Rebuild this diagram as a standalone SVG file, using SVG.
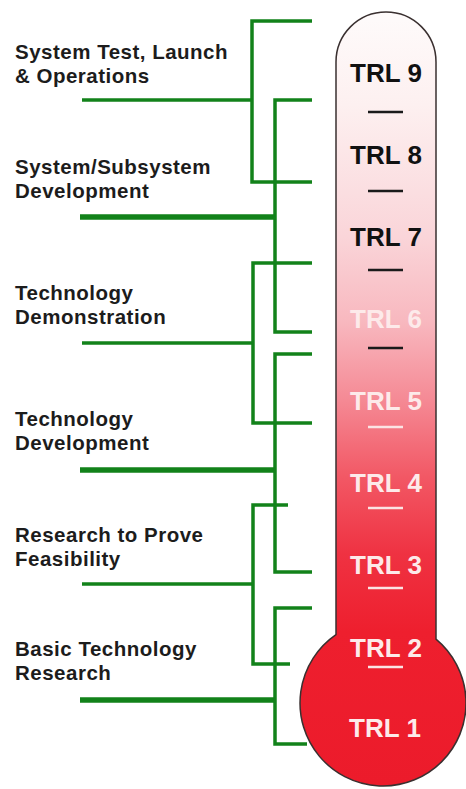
<svg xmlns="http://www.w3.org/2000/svg" width="466" height="789" viewBox="0 0 466 789">
<style>
.lbl{font-family:"Liberation Sans",Arial,sans-serif;font-weight:bold;font-size:20.5px;letter-spacing:0.5px;fill:#1c1c1c}
.trl{font-family:"Liberation Sans",Arial,sans-serif;font-weight:bold;font-size:26px;text-anchor:middle}
.dk{fill:#111}
.wt{fill:#fdeaea}
.ln{fill:none;stroke:#12821a;stroke-width:3.5;stroke-linecap:butt;stroke-linejoin:miter}
.thick{stroke-width:5.5}
.dd{stroke:#1a1a1a;stroke-width:2.5}
.dw{stroke:#fbe4e4;stroke-width:2.5}
</style>
<defs>
<linearGradient id="tube" gradientUnits="userSpaceOnUse" x1="0" y1="12" x2="0" y2="786">
<stop offset="0" stop-color="#fefbfb"/>
<stop offset="0.12" stop-color="#fdf0f0"/>
<stop offset="0.29" stop-color="#fad5d9"/>
<stop offset="0.4" stop-color="#f8b8bf"/>
<stop offset="0.5" stop-color="#f58a95"/>
<stop offset="0.6" stop-color="#f25865"/>
<stop offset="0.7" stop-color="#ef3242"/>
<stop offset="0.8" stop-color="#ee1f2e"/>
<stop offset="1" stop-color="#ec1b2b"/>
</linearGradient>
</defs>
<rect width="466" height="789" fill="#ffffff"/>
<g id="connectors">
<path class="ln" d="M312,21 H252 V182 H312"/>
<path class="ln" d="M82,100 H252"/>
<path class="ln" d="M312,100 H275 V332 H312"/>
<path class="ln thick" d="M80,217 H275"/>
<path class="ln" d="M312,263 H253 V423 H312"/>
<path class="ln" d="M82,343 H253"/>
<path class="ln" d="M312,354 H275 V572 H312"/>
<path class="ln thick" d="M80,470 H275"/>
<path class="ln" d="M288,505 H253 V664 H290"/>
<path class="ln" d="M82,584 H253"/>
<path class="ln" d="M312,608 H275 V744 H307"/>
<path class="ln thick" d="M80,700 H275"/>
</g>
<g id="thermometer">
<path d="M336,62 A50,50 0 0 1 436,62 L436,639.1 A83,83 0 1 1 336,634.6 Z" fill="url(#tube)" stroke="#3a3030" stroke-width="1.5"/>
<g id="trl9"><text class="trl dk" x="386" y="81.5">TRL 9</text></g>
<line class="dd" x1="368" y1="112" x2="403" y2="112"/>
<g id="trl8"><text class="trl dk" x="386" y="164">TRL 8</text></g>
<line class="dd" x1="368" y1="191" x2="403" y2="191"/>
<g id="trl7"><text class="trl dk" x="386" y="246">TRL 7</text></g>
<line class="dd" x1="368" y1="270" x2="403" y2="270"/>
<g id="trl6"><text class="trl wt" x="386" y="328">TRL 6</text></g>
<line class="dd" x1="368" y1="348" x2="403" y2="348"/>
<g id="trl5"><text class="trl wt" x="386" y="410">TRL 5</text></g>
<line class="dw" x1="368" y1="427" x2="403" y2="427"/>
<g id="trl4"><text class="trl wt" x="386" y="492">TRL 4</text></g>
<line class="dw" x1="368" y1="508" x2="403" y2="508"/>
<g id="trl3"><text class="trl wt" x="386" y="574">TRL 3</text></g>
<line class="dw" x1="368" y1="588" x2="403" y2="588"/>
<g id="trl2"><text class="trl wt" x="386" y="657">TRL 2</text></g>
<line class="dw" x1="368" y1="667" x2="403" y2="667"/>
<g id="trl1"><text class="trl wt" x="385" y="737">TRL 1</text></g>
</g>
<g id="system-test"><text class="lbl" x="15" y="58.5">System Test, Launch</text><text class="lbl" x="15" y="82.5">&amp; Operations</text></g>
<g id="system-dev"><text class="lbl" x="15" y="174">System/Subsystem</text><text class="lbl" x="15" y="198">Development</text></g>
<g id="tech-demo"><text class="lbl" x="15" y="299.5">Technology</text><text class="lbl" x="15" y="323.5">Demonstration</text></g>
<g id="tech-dev"><text class="lbl" x="15" y="426">Technology</text><text class="lbl" x="15" y="450">Development</text></g>
<g id="research-feasibility"><text class="lbl" x="15" y="541.5">Research to Prove</text><text class="lbl" x="15" y="565.5">Feasibility</text></g>
<g id="basic-research"><text class="lbl" x="15" y="655.5">Basic Technology</text><text class="lbl" x="15" y="679.5">Research</text></g>
</svg>
